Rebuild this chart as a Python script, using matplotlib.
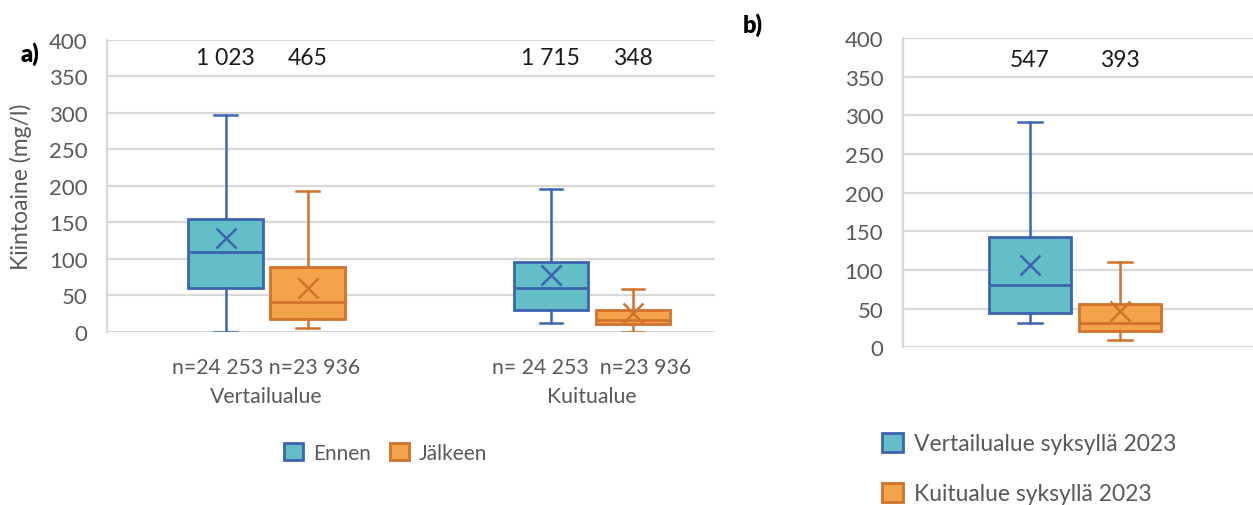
import matplotlib.pyplot as plt
from matplotlib.patches import Patch
from matplotlib.transforms import blended_transform_factory

plt.rcParams['font.family'] = ['Lato', 'DejaVu Sans']

# ---- data (a) ----
groups_a = ['Vertailualue', 'Kuitualue']
n_labels_a = ['n=24 253 n=23 936', 'n= 24 253  n=23 936']
counts_a = ['1 023', '465', '1 715', '348']
# order: Vertailualue Ennen, Vertailualue Jälkeen, Kuitualue Ennen, Kuitualue Jälkeen
q1_a = [60, 17, 30, 10]
med_a = [109, 41, 60, 16]
q3_a = [155, 88, 96, 30]
lo_a = [0, 5, 12, 0]
hi_a = [297, 193, 195, 58]
mean_a = [128, 60, 78, 26]

# ---- data (b) ----
counts_b = ['547', '393']
q1_b = [45, 21]
med_b = [81, 31]
q3_b = [143, 56]
lo_b = [31, 9]
hi_b = [291, 110]
mean_b = [106, 47]
labels_b = ['Vertailualue syksyllä 2023', 'Kuitualue syksyllä 2023']

teal, blue = '#63BEC8', '#3C64B0'
orange, dorange = '#F3A34A', '#D2722C'
grid_c = '#D9D9D9'
tick_c = '#595959'


def stats(q1, med, q3, lo, hi, mean):
    return [dict(q1=a, med=b, q3=c, whislo=d, whishi=e, mean=f, fliers=[])
            for a, b, c, d, e, f in zip(q1, med, q3, lo, hi, mean)]


def draw(ax, st, pos, width, colors):
    for s, p, (fc, ec) in zip(st, pos, colors):
        ax.bxp([s], positions=[p], widths=width, patch_artist=True,
               showmeans=True, showfliers=False, manage_ticks=False,
               boxprops=dict(facecolor=fc, edgecolor=ec, linewidth=2),
               medianprops=dict(color=ec, linewidth=2),
               whiskerprops=dict(color=ec, linewidth=1.8),
               capprops=dict(color=ec, linewidth=1.8),
               capwidths=width * 0.3,
               meanprops=dict(marker='x', markeredgecolor=ec, markersize=14,
                              markeredgewidth=1.8))


def style(ax):
    ax.set_ylim(0, 400)
    ax.set_yticks(range(0, 401, 50))
    ax.yaxis.grid(True, color=grid_c, linewidth=1.6)
    ax.set_axisbelow(True)
    for s in ['top', 'right', 'bottom']:
        ax.spines[s].set_visible(False)
    ax.spines['left'].set_color(grid_c)
    ax.spines['left'].set_linewidth(1.6)
    ax.tick_params(axis='y', length=0, labelsize=16, labelcolor=tick_c, pad=14)
    ax.set_xticks([])


fig = plt.figure(figsize=(12.53, 5.06), dpi=100)

# ===== panel a =====
axa = fig.add_axes([0.0854, 0.3425, 0.4852, 0.577])
pos_a = [0.39, 0.66, 1.46, 1.73]
cols = [(teal, blue), (orange, dorange)] * 2
draw(axa, stats(q1_a, med_a, q3_a, lo_a, hi_a, mean_a), pos_a, 0.245, cols)
axa.set_xlim(0, 2)
style(axa)
axa.set_ylabel('Kiintoaine (mg/l)', fontsize=16.5, color=tick_c)
axa.yaxis.set_label_coords(-0.123, 0.5)
for p, c in zip(pos_a, counts_a):
    axa.text(p, 375, c, ha='center', va='center', fontsize=16.5, color='#1a1a1a')
tr = blended_transform_factory(axa.transData, axa.transAxes)
for gx, nl, g in zip([0.523, 1.594], n_labels_a, groups_a):
    axa.text(gx, -0.12, nl, transform=tr, ha='center', va='center',
             fontsize=15.3, color=tick_c)
    axa.text(gx, -0.22, g, transform=tr, ha='center', va='center',
             fontsize=15.3, color=tick_c)
fig.text(0.0165, 0.893, 'a)', fontsize=17, fontweight='heavy', va='center')
fig.legend(handles=[Patch(facecolor=teal, edgecolor=blue, linewidth=2, label='Ennen'),
                    Patch(facecolor=orange, edgecolor=dorange, linewidth=2, label='Jälkeen')],
           loc='center', bbox_to_anchor=(0.308, 0.103), ncol=2, frameon=False,
           fontsize=15, handlelength=0.9, handleheight=0.9, handletextpad=0.5,
           columnspacing=0.9, labelcolor=tick_c)

# ===== panel b =====
axb = fig.add_axes([0.7204, 0.3116, 0.2796, 0.6113])
pos_b = [0.363, 0.62]
draw(axb, stats(q1_b, med_b, q3_b, lo_b, hi_b, mean_b), pos_b, 0.234,
     [(teal, blue), (orange, dorange)])
axb.set_xlim(0, 1)
style(axb)
for p, c in zip(pos_b, counts_b):
    axb.text(p, 372, c, ha='center', va='center', fontsize=16.5, color='#1a1a1a')
fig.text(0.593, 0.951, 'b)', fontsize=17, fontweight='heavy', va='center')
fig.legend(handles=[Patch(facecolor=teal, edgecolor=blue, linewidth=2, label=labels_b[0]),
                    Patch(facecolor=orange, edgecolor=dorange, linewidth=2, label=labels_b[1])],
           loc='upper left', bbox_to_anchor=(0.704, 0.143), ncol=1, frameon=False,
           fontsize=16.5, handlelength=0.9, handleheight=0.9, handletextpad=0.5,
           labelspacing=1.25, labelcolor=tick_c, borderaxespad=0, borderpad=0)

fig.savefig('out.png', dpi=100)
